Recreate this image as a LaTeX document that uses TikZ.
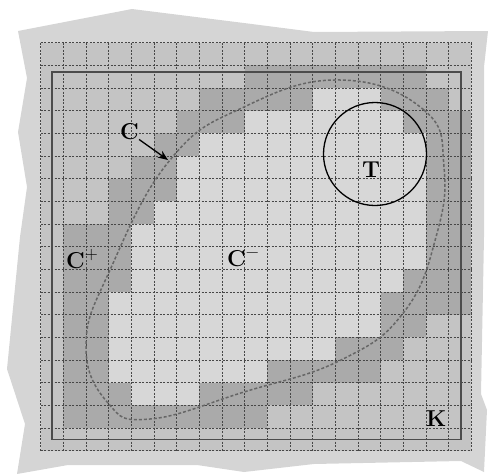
\documentclass[tikz,border=0pt]{standalone}
\usepackage{fontspec}
\usepackage{tikz}
\usetikzlibrary{arrows.meta,positioning,calc}
\definecolor{paper}{gray}{0.835}
\definecolor{outcell}{gray}{0.77}
\definecolor{incell}{gray}{0.845}
\definecolor{bndcell}{gray}{0.665}
\definecolor{gridln}{gray}{0.28}
\definecolor{curveC}{gray}{0.4}

\begin{document}
\begin{tikzpicture}[x=1pt, y=-1pt,
  gridline/.style={draw=gridln, line width=0.9pt, dash pattern=on 2pt off 1.5pt},
  frameK/.style={draw=black!70, line width=1.6pt},
  curve/.style={draw=curveC, line width=1.5pt, dash pattern=on 3pt off 2pt},
  lbl/.style={font=\fontsize{23}{27}\selectfont\bfseries, inner sep=0pt, anchor=base west},
  arr/.style={-{Stealth[length=10pt,width=8pt]}, line width=1.3pt},
]
\useasboundingbox (0,0) rectangle (488,474);
% torn sheet
\fill[paper] (18,31) -- (132,9) -- (244,23) -- (314,32) -- (488,31) -- (484,67)
  -- (484,237) -- (481,394) -- (487,410) -- (484,472) -- (461,461) -- (314,464)
  -- (244,472) -- (197,465) -- (68,465) -- (17,474) -- (25,424) -- (7,369)
  -- (20,237) -- (27,187) -- (18,132) -- (27,78) -- cycle;

% cells
\begin{scope}[shift={(40.7,42.7)}, x=22.67pt, y=-22.67pt]
  \fill[outcell] (0,0) rectangle (19,18);
  % row/first/last of the inner cells
  \foreach \r/\a/\b in {2/12/14, 3/9/15, 4/7/16, 5/6/16, 6/6/16, 7/5/16, 8/4/16,
      9/4/16, 10/4/15, 11/3/14, 12/3/14, 13/3/12, 14/3/9, 15/4/6}
    \fill[incell] (\a,\r) rectangle (\b+1,\r+1);
  % cells on the curve
  \foreach \r/\cols in {1/{9,...,16}, 2/{7,8,9,10,11,15,16,17}, 3/{6,7,8,16,17,18},
      4/{5,6,17,18}, 5/{4,5,17,18}, 6/{3,4,5,17,18}, 7/{3,4,17,18},
      8/{1,2,3,17,18}, 9/{1,2,3,17,18}, 10/{1,2,3,16,17,18},
      11/{1,2,15,16,17,18}, 12/{1,2,15,16}, 13/{1,2,13,14,15},
      14/{1,2,10,11,12,13,14}, 15/{1,2,3,7,8,9,10,11}, 16/{1,...,9}}
    \foreach \c in \cols
      \fill[bndcell] (\c,\r) rectangle ++(1,1);
  \foreach \i in {0,...,19}
    \draw[gridline] (\i,0) -- (\i,18);
  \foreach \j in {0,...,18}
    \draw[gridline] (0,\j) -- (19,\j);
\end{scope}

\draw[frameK] (51.7,71.7) rectangle (460.7,439.3);

\draw[curve] plot[smooth cycle, tension=0.75] coordinates {
  (340,80) (424,110) (444,167) (436,237) (404,312) (341,360) (244,392)
  (150,419) (108,403) (86,345) (110,270) (170,160) (244,107)};

\node[draw, circle, line width=1.3pt, minimum size=103pt, inner sep=0pt] (T) at (375,154) {};

\node[lbl] (lC) at (120,139) {C};
\node[lbl] (lCp) at (66,268) {C\raisebox{9pt}{\fontsize{18}{18}\selectfont\mdseries +}};
\node[lbl] (lCm) at (227,266) {C\raisebox{9pt}{\fontsize{18}{18}\selectfont\mdseries −}};
\node[lbl] (lT) at (362,177) {T};
\node[lbl] (lK) at (426,426) {K};

\coordinate (ctip) at (168,160);
\draw[arr] (lC.south east) -- (ctip);
\end{tikzpicture}
\end{document}
